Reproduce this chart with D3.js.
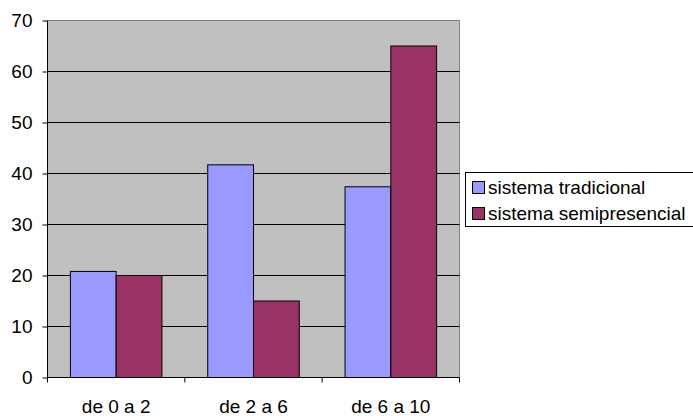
<!DOCTYPE html>
<html>
<head>
<meta charset="utf-8">
<script src="https://cdn.jsdelivr.net/npm/d3@7"></script>
<style>
  html, body { margin: 0; padding: 0; background: #fff; }
  svg { display: block; font-family: "Liberation Sans", Arial, sans-serif; }
</style>
</head>
<body>
<svg id="chart" width="693" height="416"></svg>
<script>
// Grade ranges on the horizontal axis
const categories = ["de 0 a 2", "de 2 a 6", "de 6 a 10"];
// Series names, in legend order
const seriesNames = ["sistema tradicional", "sistema semipresencial"];
// Values per series, one per grade range
const tradicional = [20.8, 41.7, 37.4];
const semipresencial = [20, 15, 65];
// Y axis ticks
const yTicks = [0, 10, 20, 30, 40, 50, 60, 70];

const colors = ["#9999FF", "#993366"];
const seriesValues = [tradicional, semipresencial];

const svg = d3.select("#chart");
const fontSize = 19;

const x = d3.scaleBand().domain(categories).range([47.5, 459.5]).paddingInner(0).paddingOuter(0);
const bw = x.bandwidth();
const xs = d3.scaleBand().domain(seriesNames).range([bw / 6, bw * 5 / 6]).padding(0);
const y = d3.scaleLinear().domain([0, 70]).range([377.5, 20.5]);

const [x0, x1] = x.range();
const [yb, yt] = y.range();

// Plot background
svg.append("rect")
  .attr("x", x0).attr("y", yt)
  .attr("width", x1 - x0).attr("height", yb - yt)
  .attr("fill", "#C0C0C0");

// Plot frame (top and right)
svg.append("path")
  .attr("d", `M${x0},${yt}H${x1}V${yb}`)
  .attr("fill", "none").attr("stroke", "#808080").attr("stroke-width", 1);

// Horizontal gridlines
svg.append("g").selectAll("line")
  .data(yTicks.filter(t => t > 0 && t < 70))
  .join("line")
  .attr("x1", x0).attr("x2", x1)
  .attr("y1", d => y(d)).attr("y2", d => y(d))
  .attr("stroke", "#000").attr("stroke-width", 1);

// Bars
const rows = categories.map((c, i) => ({ c, vals: seriesNames.map((s, j) => ({ s, j, v: seriesValues[j][i] })) }));
svg.append("g").selectAll("g")
  .data(rows)
  .join("g")
  .attr("transform", d => `translate(${x(d.c)},0)`)
  .selectAll("rect")
  .data(d => d.vals)
  .join("rect")
  .attr("x", d => xs(d.s))
  .attr("width", xs.bandwidth())
  .attr("y", d => y(d.v))
  .attr("height", d => y(0) - y(d.v))
  .attr("fill", d => colors[d.j])
  .attr("stroke", "#000").attr("stroke-width", 1);

// Y axis
const yAxis = d3.axisLeft(y).tickValues(yTicks).tickSize(5).tickPadding(10).tickFormat(d3.format("d"));
const gy = svg.append("g").attr("transform", `translate(${x0},0)`).call(yAxis);
gy.select(".domain").attr("stroke", "#000").attr("d", `M0,${yb}V${yt}`);
gy.selectAll(".tick line").attr("stroke", "#000");
gy.selectAll(".tick text")
  .attr("font-size", fontSize).attr("font-family", "Liberation Sans, Arial, sans-serif")
  .attr("fill", "#000");

// X axis: labels centred in each band, ticks at band boundaries
const gx = svg.append("g").attr("transform", `translate(0,${yb})`);
gx.append("line").attr("x1", x0).attr("x2", x1).attr("y1", 0).attr("y2", 0).attr("stroke", "#000");
const bounds = categories.map(c => x(c)).concat([x1]);
gx.selectAll("line.tick").data(bounds).join("line")
  .attr("class", "tick")
  .attr("x1", d => d).attr("x2", d => d)
  .attr("y1", 0).attr("y2", 5)
  .attr("stroke", "#000");
gx.selectAll("text").data(categories).join("text")
  .attr("x", d => x(d) + bw / 2)
  .attr("y", 35.5)
  .attr("text-anchor", "middle")
  .attr("font-size", fontSize)
  .attr("fill", "#000")
  .text(d => d);

// Legend
const lg = svg.append("g");
lg.append("rect")
  .attr("x", 465.5).attr("y", 172.5)
  .attr("width", 240).attr("height", 54)
  .attr("fill", "#fff").attr("stroke", "#000").attr("stroke-width", 1);
const items = lg.selectAll("g.item").data(seriesNames).join("g")
  .attr("class", "item")
  .attr("transform", (d, i) => `translate(0,${i * 26})`);
items.append("rect")
  .attr("x", 472.5).attr("y", 181.5)
  .attr("width", 12).attr("height", 12)
  .attr("fill", (d, i) => colors[i])
  .attr("stroke", "#000").attr("stroke-width", 1);
items.append("text")
  .attr("x", 488).attr("y", 194)
  .attr("font-size", fontSize)
  .attr("fill", "#000")
  .text(d => d);
</script>
</body>
</html>
